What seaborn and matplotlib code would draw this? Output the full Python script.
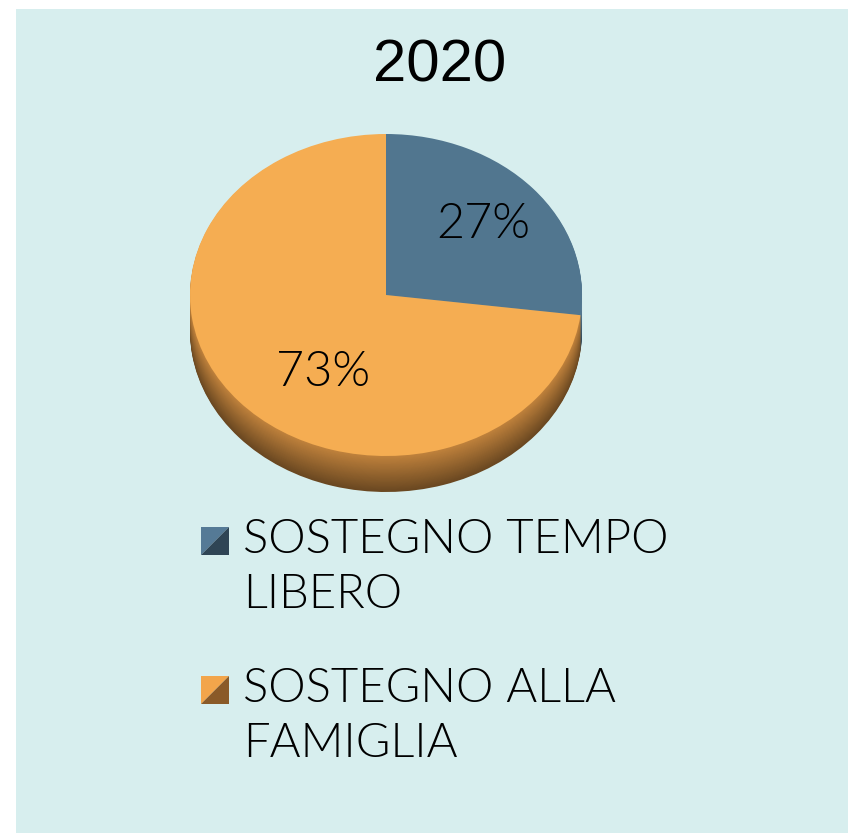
import numpy as np
import matplotlib
matplotlib.use("Agg")
import matplotlib.pyplot as plt
from matplotlib.patches import Rectangle, Polygon
import seaborn as sns

# ---- data ----
title = "2020"
categories = ["SOSTEGNO TEMPO\nLIBERO", "SOSTEGNO ALLA\nFAMIGLIA"]
values = [27, 73]
pct_labels = ["27%", "73%"]

# ---- styling ----
sns.set_theme(style="white")
plt.rcParams["font.family"] = ["Lato", "DejaVu Sans"]
TXT_W = 300

top_colors = ["#51768f", "#f5ad52"]
bg = "#d7eeee"

W, H = 848, 833
fig = plt.figure(figsize=(W / 100, H / 100), dpi=100)
fig.patch.set_facecolor("white")
fig.patches.append(Rectangle((16 / W, 0), 1 - 16 / W, 1 - 9 / H,
                             transform=fig.transFigure, facecolor=bg,
                             edgecolor="none", zorder=-10))

# pie geometry (pixels)
cx, cy = 386, 295          # center (from top)
rx, ry = 196, 161          # semi-axes of top face
depth = 36                 # thickness of side
ax_left, ax_w = cx - 240, 480
ax_top, ax_h = 110, 420
ax = fig.add_axes([ax_left / W, (H - ax_top - ax_h) / H, ax_w / W, ax_h / H])
ax.set_facecolor("none")

d = depth / ry
n_layers = 40
for i in range(n_layers, 0, -1):
    off = d * i / n_layers
    shade = 0.55 + 0.45 * (1 - i / n_layers)
    cols = [tuple(np.clip(np.array(matplotlib.colors.to_rgb(c)) * shade, 0, 1))
            for c in ["#5c8099", "#c0823c"]]
    ax.pie(values, colors=cols, startangle=90, counterclock=False,
           center=(0, -off), radius=1.0,
           wedgeprops=dict(linewidth=0, antialiased=True))

wedges, texts, autotexts = ax.pie(
    values, colors=top_colors, startangle=90, counterclock=False,
    radius=1.0, autopct=lambda p: f"{p:.0f}%", pctdistance=0.66,
    wedgeprops=dict(linewidth=0),
    textprops=dict(fontsize=35, color="black"))
# nudge 73% label toward reference placement
autotexts[1].set_position((-0.32, -0.48))
for t, lab in zip(autotexts, pct_labels):
    t.set_text(lab)
    t.set_fontweight(TXT_W)

ax.set_aspect("auto")
ax.set_xlim(-240 / rx, 240 / rx)
ax.set_ylim(-(ax_top + ax_h - cy) / ry, (cy - ax_top) / ry)
ax.axis("off")

# title
fig.text(440 / W, 1 - 66 / H, title, ha="center", va="center",
         fontsize=43, family=["Liberation Sans", "DejaVu Sans"], color="black")

# legend (manual)
legend_tops = [527, 676]
for cat, top, light, dark in zip(categories, legend_tops,
                                 ["#557a96", "#f2a54b"], ["#2f4555", "#8a5a28"]):
    x0, x1 = 201 / W, 229 / W
    y0, y1 = 1 - (top + 28) / H, 1 - top / H
    fig.patches.append(Polygon([(x0, y0), (x0, y1), (x1, y1)], closed=True,
                               transform=fig.transFigure, facecolor=light, edgecolor="none"))
    fig.patches.append(Polygon([(x0, y0), (x1, y0), (x1, y1)], closed=True,
                               transform=fig.transFigure, facecolor=dark, edgecolor="none"))
    fig.text(243 / W, 1 - (top - 8) / H, cat, ha="left", va="top",
             fontsize=34, fontweight=TXT_W, color="black", linespacing=1.37)

fig.savefig("out.png", dpi=100, facecolor=fig.get_facecolor())
